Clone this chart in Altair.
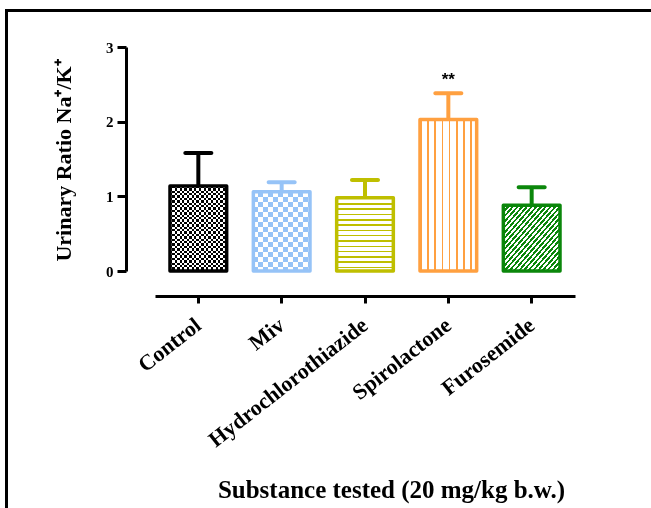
import altair as alt
import pandas as pd

# ---------------- data ----------------
categories = ["Control", "Miv", "Hydrochlorothiazide", "Spirolactone", "Furosemide"]
means = [1.14, 1.06, 0.98, 2.03, 0.88]
sems = [0.44, 0.13, 0.24, 0.35, 0.24]
signif = ["", "", "", "**", ""]
colors = ["#000000", "#96C3F7", "#BFBF00", "#FFA040", "#0B870B"]
y_ticks = [0, 1, 2, 3]

df = pd.DataFrame({"cat": categories, "mean": means, "sem": sems, "sig": signif})

# ---------------- layout / style ----------------
W, H = 420, 224
YMAX = 3
P_IN, P_OUT = 0.32, 0.18
STEP = W / (len(categories) - P_IN + 2 * P_OUT)
BAR_W = STEP * (1 - P_IN)
PX = H / YMAX
SERIF = "Liberation Serif"


def stripes(on, off, n, duty, direction):
    """Hard-edged linear gradient giving n stripe periods across the mark."""
    stops = []
    k = 0
    while k / n < 1:
        a = k / n
        b = min((k + duty) / n, 1.0)
        c = min((k + 1) / n, 1.0)
        stops += [alt.GradientStop(offset=a, color=on), alt.GradientStop(offset=b, color=on)]
        if b < 1:
            stops += [alt.GradientStop(offset=b, color=off), alt.GradientStop(offset=c, color=off)]
        k += 1
    x1, y1, x2, y2 = {"h": (0, 0, 0, 1), "v": (0, 0, 1, 0), "d": (0, 0, 1, 1)}[direction]
    return alt.LinearGradient(gradient="linear", stops=stops, x1=x1, y1=y1, x2=x2, y2=y2)


xscale = alt.Scale(domain=categories, paddingInner=P_IN, paddingOuter=P_OUT)
yscale = alt.Scale(domain=[0, YMAX], nice=False)

xaxis = alt.Axis(
    title="Substance tested (20 mg/kg b.w.)",
    labelAngle=-38,
    labelAlign="right",
    labelBaseline="middle",
    labelFont=SERIF,
    labelFontWeight="bold",
    labelFontSize=22,
    labelColor="black",
    labelPadding=19,
    labelLimit=0,
    offset=25,
    domainColor="black",
    domainWidth=3,
    tickColor="black",
    tickWidth=3,
    tickSize=7,
    titleFont=SERIF,
    titleFontWeight="bold",
    titleFontSize=25,
    titleColor="black",
    titleX=236,
    titleY=201,
    titleAlign="center",
    titleBaseline="alphabetic",
)

yaxis = alt.Axis(
    values=y_ticks,
    format="d",
    grid=False,
    offset=29,
    labelFont=SERIF,
    labelFontWeight="bold",
    labelFontSize=15,
    labelColor="black",
    labelPadding=4,
    domainColor="black",
    domainWidth=3,
    tickColor="black",
    tickWidth=3,
    tickSize=9,
    title="Urinary Ratio Na\u207A/K\u207A",
    titleFont=SERIF,
    titleFontWeight="bold",
    titleFontSize=22,
    titleColor="black",
    titleX=-51,
    titleY=113,
    titleAngle=-90,
    titleAlign="center",
    titleBaseline="bottom",
)

base = alt.Chart(df).encode(x=alt.X("cat:N", scale=xscale, sort=categories, axis=xaxis))


def ymean():
    return alt.Y("mean:Q", scale=yscale, axis=yaxis)


layers = []
for i, cat in enumerate(categories):
    col = colors[i]
    h_px = means[i] * PX
    sel = base.transform_filter(alt.datum.cat == cat)
    if cat in ("Control", "Miv"):
        cell = 2.4 if cat == "Control" else 5.0
        ny = h_px / (2 * cell)
        nx = BAR_W / (2 * cell)
        layers.append(sel.mark_bar(fill=stripes("#000000", "#ffffff", ny, 0.5, "h"), strokeWidth=0).encode(y=ymean()))
        layers.append(sel.mark_bar(fill=stripes("#ffffff", "#000000", nx, 0.5, "v"), strokeWidth=0,
                                   blend="difference").encode(y=ymean()))
        if cat == "Miv":
            layers.append(sel.mark_bar(fill=col, strokeWidth=0, blend="lighten").encode(y=ymean()))
    elif cat == "Hydrochlorothiazide":
        layers.append(sel.mark_bar(fill=stripes(col, "#ffffff", h_px / 5.3, 0.28, "h"), strokeWidth=0).encode(y=ymean()))
    elif cat == "Spirolactone":
        layers.append(sel.mark_bar(fill=stripes(col, "#ffffff", BAR_W / 7.2, 0.22, "v"), strokeWidth=0).encode(y=ymean()))
    else:
        layers.append(sel.mark_bar(fill=stripes(col, "#ffffff", 24, 0.5, "d"), strokeWidth=0).encode(y=ymean()))
    # outline
    layers.append(sel.mark_bar(fillOpacity=0, stroke=col, strokeWidth=3.5, strokeJoin="round").encode(y=ymean()))

err = base.transform_calculate(upper="datum.mean + datum.sem")
stem = err.mark_rule(strokeWidth=4, opacity=1).encode(
    y=ymean(),
    y2="upper:Q",
    color=alt.Color("cat:N", scale=alt.Scale(domain=categories, range=colors), legend=None),
)
cap = err.mark_tick(thickness=4, cornerRadius=2, orient="horizontal", opacity=1).encode(
    y=alt.Y("upper:Q", scale=yscale, axis=yaxis),
    size=alt.value(30),
    color=alt.Color("cat:N", scale=alt.Scale(domain=categories, range=colors), legend=None),
)
stars = err.mark_text(font="Liberation Sans", fontSize=17, fontWeight="bold", color="black",
                      baseline="alphabetic", dy=-8).encode(
    y=alt.Y("upper:Q", scale=yscale, axis=yaxis),
    text="sig:N",
)

frame = alt.Chart(alt.Data(values=[{"f": 1}])).mark_rect(
    fillOpacity=0, stroke="black", strokeWidth=3, clip=False
).encode(x=alt.value(-148.5), x2=alt.value(800), y=alt.value(-36.5), y2=alt.value(800))

chart = alt.layer(*layers, stem, cap, stars, frame).properties(
    width=W,
    height=H,
    autosize=alt.AutoSizeParams(type="none"),
    padding={"left": 155, "top": 47, "right": 76, "bottom": 237},
    background="white",
).configure_view(stroke="transparent")

chart.save("out.html", embed_options={"renderer": "svg", "actions": False})
